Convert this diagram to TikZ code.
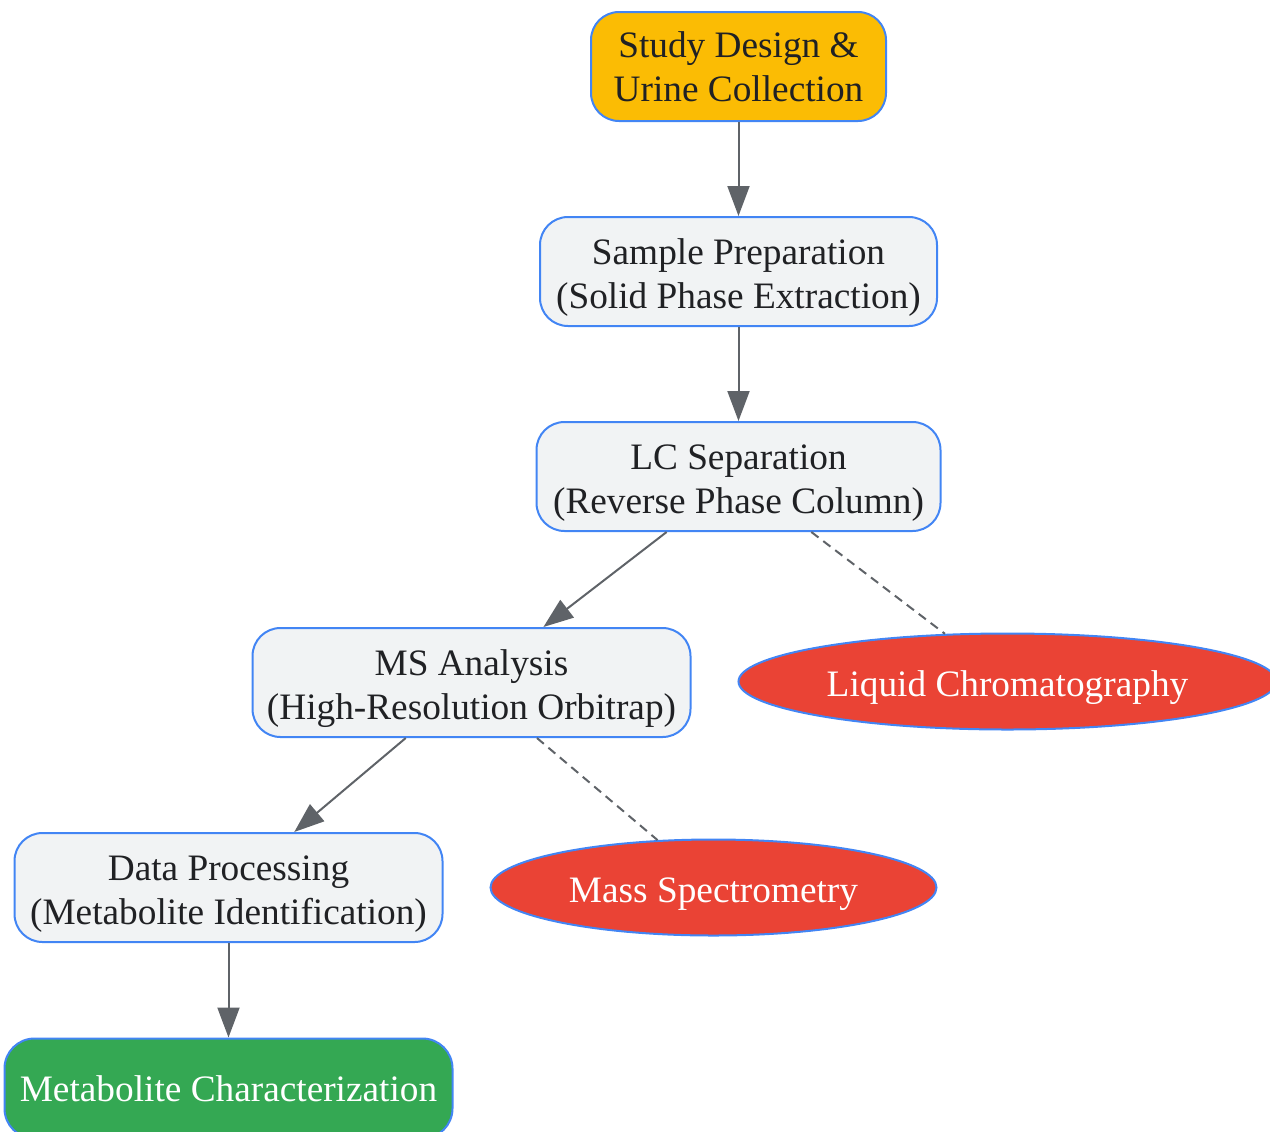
\documentclass[tikz,border=0pt]{standalone}
\usepackage{fontspec}
\setmainfont{Liberation Serif}
\usetikzlibrary{arrows.meta,shapes.geometric,positioning}
\definecolor{nodeborder}{HTML}{4285F4}
\definecolor{startyellow}{HTML}{FBBC04}
\definecolor{boxgray}{HTML}{F1F3F4}
\definecolor{techred}{HTML}{EA4335}
\definecolor{endgreen}{HTML}{34A853}
\definecolor{linegray}{HTML}{5F6368}
\definecolor{textdark}{HTML}{202124}
\newcommand{\nodelines}[1]{\raisebox{-3pt}[\height][\depth]{\begin{tabular}{@{}c@{}}#1\end{tabular}}}
\tikzstyle{block} = [draw=nodeborder, line width=1pt, fill=boxgray, rectangle, rounded corners=14pt, minimum height=54.5pt, inner sep=0pt, align=center, text=textdark, font=\fontsize{18.65}{22}\selectfont]
\tikzstyle{startblock} = [block, fill=startyellow]
\tikzstyle{endblock} = [block, fill=endgreen, text=white, minimum height=50pt, rounded corners=15pt]
\tikzstyle{tech} = [draw=nodeborder, line width=1pt, fill=techred, ellipse, minimum height=48pt, inner sep=0pt, text=white, font=\fontsize{18.65}{22}\selectfont]
\tikzstyle{flow} = [draw=linegray, line width=1pt, -{Triangle[length=15pt,width=11pt]}]
\tikzstyle{link} = [draw=linegray, line width=1pt, dash pattern=on 4.5pt off 3pt]

\begin{document}
\begin{tikzpicture}[auto, node distance=102.5pt]
		\useasboundingbox (0,0) rectangle (635pt,-565.5pt);
		\node [startblock, minimum width=147.5pt] (study) at (369.25pt,-33.25pt) {Study Design \&\\Urine Collection};
		\node [block, below of=study, minimum width=198.5pt] (sample) {\nodelines{Sample Preparation\\(Solid Phase Extraction)}};
		\node [block, below of=sample, minimum width=202pt] (lc) {\nodelines{LC Separation\\(Reverse Phase Column)}};
		\node [block, below of=lc, node distance=103pt, xshift=-133.5pt, minimum width=219pt] (ms) {\nodelines{MS Analysis\\(High-Resolution Orbitrap)}};
		\node [tech, below of=lc, xshift=134.5pt, minimum width=269pt] (lchrom) {\nodelines{Liquid Chromatography}};
		\node [block, below of=ms, xshift=-121.5pt, minimum width=214pt] (data) {\nodelines{Data Processing\\(Metabolite Identification)}};
		\node [tech, below of=ms, xshift=121pt, minimum width=223pt] (mspec) {\nodelines{Mass Spectrometry}};
		\node [endblock, below of=data, node distance=100.5pt, minimum width=224pt] (metab) {Metabolite Characterization};

		\draw [flow] (study) -- (sample);
		\draw [flow] (sample) -- (lc);
		\draw [flow] (lc) -- (ms);
		\draw [link] (lc) -- (lchrom);
		\draw [flow] (ms) -- (data);
		\draw [link] (ms) -- (mspec);
		\draw [flow] (data) -- (metab);
	\end{tikzpicture}
\end{document}
